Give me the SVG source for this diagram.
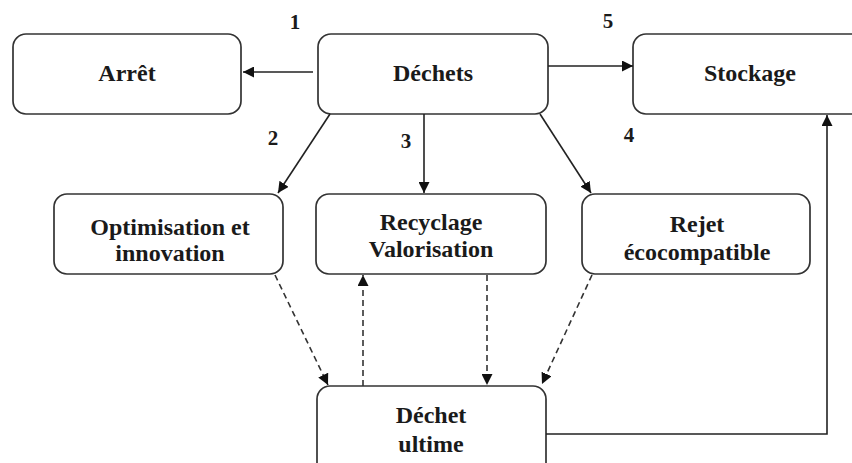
<svg xmlns="http://www.w3.org/2000/svg" width="852" height="463" viewBox="0 0 852 463">
<defs>
<marker id="ah" viewBox="0 0 10 10" refX="10" refY="5" markerWidth="11" markerHeight="11" markerUnits="userSpaceOnUse" orient="auto">
<path d="M0,0 L10,5 L0,10 z" fill="#111"/>
</marker>
<style>
.box{fill:#fff;stroke:#333;stroke-width:1.7}
.t{font-family:"Liberation Serif","Times New Roman",serif;font-weight:bold;font-size:24px;fill:#1a1a1a;text-anchor:middle}
.c{fill:none;stroke:#222;stroke-width:1.6}
.d{fill:none;stroke:#333;stroke-width:1.6;stroke-dasharray:6,4}
.n{font-family:"Liberation Serif","Times New Roman",serif;font-weight:bold;font-size:21px;fill:#1a1a1a;text-anchor:middle}
</style>
</defs>
<rect width="852" height="463" fill="#fff"/>
<g id="arret"><rect class="box" x="13" y="34" width="228" height="80" rx="13"/><text class="t" x="127" y="81">Arrêt</text></g>
<g id="dechets"><rect class="box" x="318" y="34" width="230" height="80" rx="13"/><text class="t" x="433" y="81">Déchets</text></g>
<g id="stockage"><rect class="box" x="633" y="34" width="235" height="80" rx="13"/><text class="t" x="750" y="81">Stockage</text></g>
<g id="optimisation"><rect class="box" x="54" y="194" width="229" height="80" rx="13"/><text class="t" x="170" y="235">Optimisation et</text><text class="t" x="170" y="261">innovation</text></g>
<g id="recyclage"><rect class="box" x="316" y="194" width="230" height="80" rx="13"/><text class="t" x="431" y="230">Recyclage</text><text class="t" x="431" y="257">Valorisation</text></g>
<g id="rejet"><rect class="box" x="582" y="194" width="228" height="80" rx="13"/><text class="t" x="697" y="232">Rejet</text><text class="t" x="697" y="260">écocompatible</text></g>
<g id="ultime"><rect class="box" x="317" y="386" width="229" height="95" rx="13"/><text class="t" x="431" y="423">Déchet</text><text class="t" x="431" y="452">ultime</text></g>
<g id="connectors">
<line class="c" x1="313" y1="72" x2="243" y2="72" marker-end="url(#ah)"/>
<line class="c" x1="548" y1="66" x2="633" y2="66" marker-end="url(#ah)"/>
<line class="c" x1="330" y1="114" x2="278" y2="193" marker-end="url(#ah)"/>
<line class="c" x1="424" y1="114" x2="424" y2="193" marker-end="url(#ah)"/>
<line class="c" x1="540" y1="114" x2="591" y2="193" marker-end="url(#ah)"/>
<polyline class="c" points="546,434 827,434 827,115" marker-end="url(#ah)"/>
<line class="d" x1="275" y1="275" x2="328" y2="385" marker-end="url(#ah)"/>
<line class="d" x1="363" y1="386" x2="363" y2="275" marker-end="url(#ah)"/>
<line class="d" x1="487" y1="275" x2="487" y2="385" marker-end="url(#ah)"/>
<line class="d" x1="592" y1="275" x2="542" y2="384" marker-end="url(#ah)"/>
<text class="n" x="295" y="29">1</text>
<text class="n" x="608" y="28">5</text>
<text class="n" x="273" y="145">2</text>
<text class="n" x="406" y="148">3</text>
<text class="n" x="629" y="142">4</text>
</g>
</svg>
